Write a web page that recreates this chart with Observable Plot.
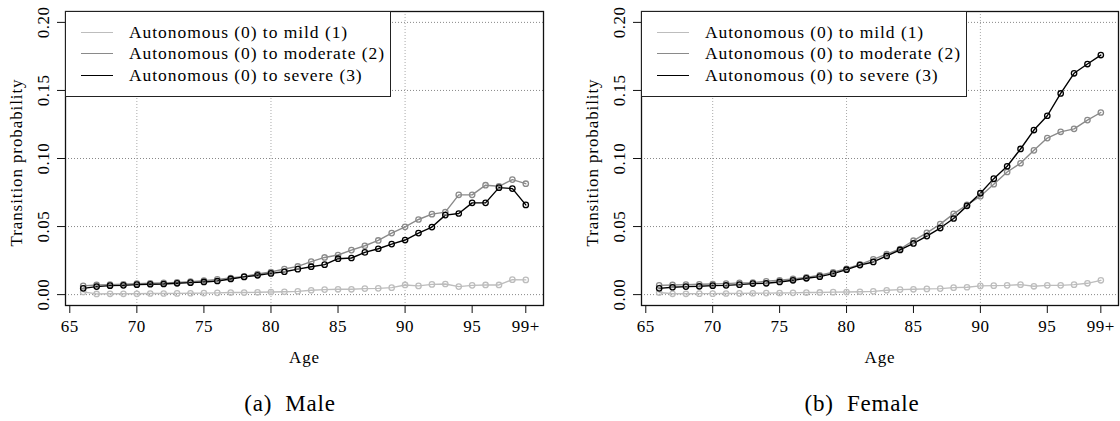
<!DOCTYPE html>
<html><head><meta charset="utf-8">
<script src="https://cdn.jsdelivr.net/npm/d3@7"></script>
<script src="https://cdn.jsdelivr.net/npm/@observablehq/plot@0.6"></script>
<style>
body{margin:0;background:#fff;}
#wrap{position:relative;width:1120px;height:421px;font-family:"Liberation Serif","Times New Roman","DejaVu Serif",serif;color:#000;}
#wrap svg text{font-family:"Liberation Serif","Times New Roman","DejaVu Serif",serif !important;font-size:17px !important;letter-spacing:0.5px;}
#wrap svg text.ttl{letter-spacing:0.9px;}
.panel{position:absolute;top:0;}
.legend{position:absolute;background:#fff;border:1px solid #222;box-sizing:border-box;}
.legend .sw{position:absolute;height:0;border-top-style:solid;border-top-width:1.5px;}
.legend .lb{position:absolute;font-size:17.5px;letter-spacing:0.95px;white-space:nowrap;transform:translateY(-50%);line-height:1;}
.caption{position:absolute;font-size:23px;letter-spacing:0.8px;transform:translate(-50%,-50%);white-space:pre;}
</style></head><body><div id="wrap"></div>
<script>
const ages = [66,67,68,69,70,71,72,73,74,75,76,77,78,79,80,81,82,83,84,85,86,87,88,89,90,91,92,93,94,95,96,97,98,99];
const seriesNames = ["Autonomous (0) to mild (1)", "Autonomous (0) to moderate (2)", "Autonomous (0) to severe (3)"];
const seriesColors = ["#bdbdbd", "#8a8a8a", "#000000"];
const xTicks = [65,70,75,80,85,90,95,99];
const xTickLabels = ["65","70","75","80","85","90","95","99+"];
const yTicks = [0,0.05,0.1,0.15,0.2];
const yTickLabels = ["0.00","0.05","0.10","0.15","0.20"];
const xGrid = [70,80,90];
const panelCaptions = ["(a)  Male", "(b)  Female"];

const maleMild = [0.0020,0.0005,0.0006,0.0006,0.0006,0.0008,0.0008,0.0009,0.0010,0.0011,0.0013,0.0015,0.0015,0.0017,0.0019,0.0021,0.0024,0.0032,0.0037,0.0039,0.0039,0.0044,0.0046,0.0051,0.0071,0.0064,0.0075,0.0078,0.0059,0.0068,0.0071,0.0071,0.0110,0.0108];
const maleModerate = [0.0064,0.0071,0.0073,0.0076,0.0081,0.0083,0.0086,0.0090,0.0095,0.0103,0.0112,0.0122,0.0134,0.0151,0.0166,0.0188,0.0207,0.0242,0.0273,0.0291,0.0327,0.0359,0.0398,0.0452,0.0498,0.0552,0.0591,0.0606,0.0733,0.0733,0.0804,0.0796,0.0845,0.0815];
const maleSevere = [0.0046,0.0059,0.0066,0.0068,0.0073,0.0076,0.0078,0.0083,0.0088,0.0093,0.0100,0.0115,0.0130,0.0142,0.0156,0.0168,0.0187,0.0205,0.0220,0.0264,0.0269,0.0310,0.0337,0.0371,0.0401,0.0452,0.0496,0.0584,0.0596,0.0674,0.0674,0.0786,0.0779,0.0659];
const femaleMild = [0.0015,0.0006,0.0006,0.0007,0.0007,0.0008,0.0009,0.0010,0.0011,0.0012,0.0013,0.0015,0.0016,0.0018,0.0019,0.0021,0.0024,0.0032,0.0037,0.0039,0.0042,0.0044,0.0051,0.0054,0.0064,0.0066,0.0068,0.0073,0.0061,0.0068,0.0068,0.0073,0.0083,0.0105];
const femaleModerate = [0.0068,0.0071,0.0073,0.0076,0.0078,0.0081,0.0086,0.0088,0.0098,0.0105,0.0115,0.0127,0.0142,0.0164,0.0190,0.0222,0.0259,0.0298,0.0335,0.0396,0.0454,0.0518,0.0593,0.0659,0.0723,0.0811,0.0901,0.0965,0.1060,0.1150,0.1196,0.1218,0.1282,0.1338];
const femaleSevere = [0.0046,0.0054,0.0059,0.0061,0.0066,0.0068,0.0073,0.0081,0.0083,0.0093,0.0105,0.0120,0.0132,0.0154,0.0183,0.0217,0.0240,0.0284,0.0328,0.0376,0.0430,0.0489,0.0559,0.0652,0.0745,0.0852,0.0943,0.1070,0.1209,0.1314,0.1478,0.1626,0.1694,0.1760];

const wrap = document.getElementById("wrap");

function makePanel(values, left, marginLeft, marginRight, caption, captionX) {
  const data = [];
  seriesNames.forEach((s, i) => ages.forEach((a, j) => data.push({age: a, value: values[i][j], series: s})));
  const chart = Plot.plot({
    width: 560, height: 370,
    marginTop: 11, marginBottom: 65, marginLeft, marginRight,
    style: {fontFamily: "Liberation Serif, serif", fontSize: "17px", background: "transparent", color: "#000", overflow: "visible"},
    x: {domain: [64.68, 100.32], axis: null},
    y: {domain: [-0.008, 0.208], axis: null},
    color: {domain: seriesNames, range: seriesColors},
    marks: [
      Plot.gridY(yTicks, {stroke: "#888", strokeOpacity: 1, strokeDasharray: "1,2", strokeWidth: 1}),
      Plot.gridX(xGrid, {stroke: "#aaa", strokeOpacity: 1, strokeDasharray: "1,2", strokeWidth: 1}),
      Plot.line(data, {x: "age", y: "value", stroke: "series", strokeWidth: 1.4, z: "series"}),
      Plot.dot(data, {x: "age", y: "value", stroke: "series", r: 2.7, strokeWidth: 1.3, fill: "none"}),
      Plot.frame({stroke: "#111", strokeWidth: 1.3}),
      Plot.axisX({ticks: xTicks, tickSize: 8, tickPadding: 6, tickFormat: d => xTickLabels[xTicks.indexOf(d)], label: null, stroke: "#111"}),
      Plot.axisY({ticks: yTicks, tickSize: 8, tickFormat: () => "", label: null, stroke: "#111"}),
      Plot.text(yTicks, {y: d => d, text: (d, i) => yTickLabels[i], frameAnchor: "left", dx: -22, rotate: -90, textAnchor: "middle", lineAnchor: "middle"}),
      Plot.text(["Transition probability"], {text: d => d, frameAnchor: "left", dx: -49, dy: 4, rotate: -90, textAnchor: "middle", lineAnchor: "middle"}),
      Plot.text(["Age"], {text: d => d, frameAnchor: "bottom", dy: 52, textAnchor: "middle", lineAnchor: "middle"})
    ]
  });
  chart.classList.add("panel");
  chart.style.left = left + "px";
  chart.querySelectorAll("g[aria-label='text']").forEach(g => {
    if (g.textContent === "Transition probability" || g.textContent === "Age") g.querySelectorAll("text").forEach(t => t.classList.add("ttl"));
  });
  wrap.appendChild(chart);

  const lg = document.createElement("div");
  lg.className = "legend";
  lg.style.left = (left + marginLeft) + "px";
  lg.style.top = "11px";
  lg.style.width = "326px";
  lg.style.height = "86px";
  const rowsY = [21, 42, 64];
  seriesNames.forEach((s, i) => {
    const sw = document.createElement("div");
    sw.className = "sw";
    sw.style.left = "15px"; sw.style.width = "32px";
    sw.style.top = (rowsY[i] - 1) + "px";
    sw.style.borderTopColor = seriesColors[i];
    lg.appendChild(sw);
    const lb = document.createElement("div");
    lb.className = "lb";
    lb.style.left = "63px";
    lb.style.top = rowsY[i] + "px";
    lb.textContent = s;
    lg.appendChild(lb);
  });
  wrap.appendChild(lg);

  const cap = document.createElement("div");
  cap.className = "caption";
  cap.style.left = captionX + "px";
  cap.style.top = "404px";
  cap.textContent = caption;
  wrap.appendChild(cap);
}

makePanel([maleMild, maleModerate, maleSevere], 0, 65, 17, panelCaptions[0], 290);
makePanel([femaleMild, femaleModerate, femaleSevere], 560, 81, 2, panelCaptions[1], 862);
</script>
</body></html>
